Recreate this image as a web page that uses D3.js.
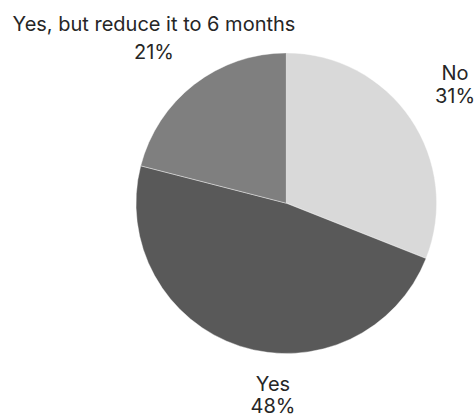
<!DOCTYPE html>
<html>
<head>
<meta charset="utf-8">
<script src="https://cdn.jsdelivr.net/npm/d3@7"></script>
<style>
  html, body { margin: 0; padding: 0; background: #fff; }
  svg text { font-family: Inter, "Noto Sans", sans-serif; font-weight: 400; fill: #262626; }
</style>
</head>
<body>
<svg id="chart" width="474" height="417"></svg>
<script>
// Survey answers, clockwise from 12 o'clock
const categories = ["No", "Yes", "Yes, but reduce it to 6 months"];
const values = [31, 48, 21];
const colors = ["#d9d9d9", "#595959", "#7f7f7f"];
// Label anchor points (centre x, first baseline y) and line gap per slice
const labelX = [455, 273, 154];
const labelY = [80, 391, 31];
const labelGap = [23, 22, 28];

const svg = d3.select("#chart");
const cx = 286.3, cy = 203.2, radius = 150.3;

const data = categories.map((c, i) => ({ name: c, value: values[i], color: colors[i] }));

const pie = d3.pie().value(d => d.value).sort(null);
const arc = d3.arc().innerRadius(0).outerRadius(radius);

const g = svg.append("g").attr("transform", `translate(${cx},${cy})`);
g.selectAll("path")
  .data(pie(data))
  .join("path")
  .attr("d", arc)
  .attr("fill", d => d.data.color)
  .attr("stroke", "#ffffff")
  .attr("stroke-width", 0.4);

const labels = svg.selectAll("g.label")
  .data(data)
  .join("g")
  .attr("class", "label");

labels.append("text")
  .attr("x", (d, i) => labelX[i])
  .attr("y", (d, i) => labelY[i])
  .attr("text-anchor", "middle")
  .attr("font-size", 20)
  .text(d => d.name);

labels.append("text")
  .attr("x", (d, i) => labelX[i])
  .attr("y", (d, i) => labelY[i] + labelGap[i])
  .attr("text-anchor", "middle")
  .attr("font-size", 20)
  .text(d => d.value + "%");
</script>
</body>
</html>
